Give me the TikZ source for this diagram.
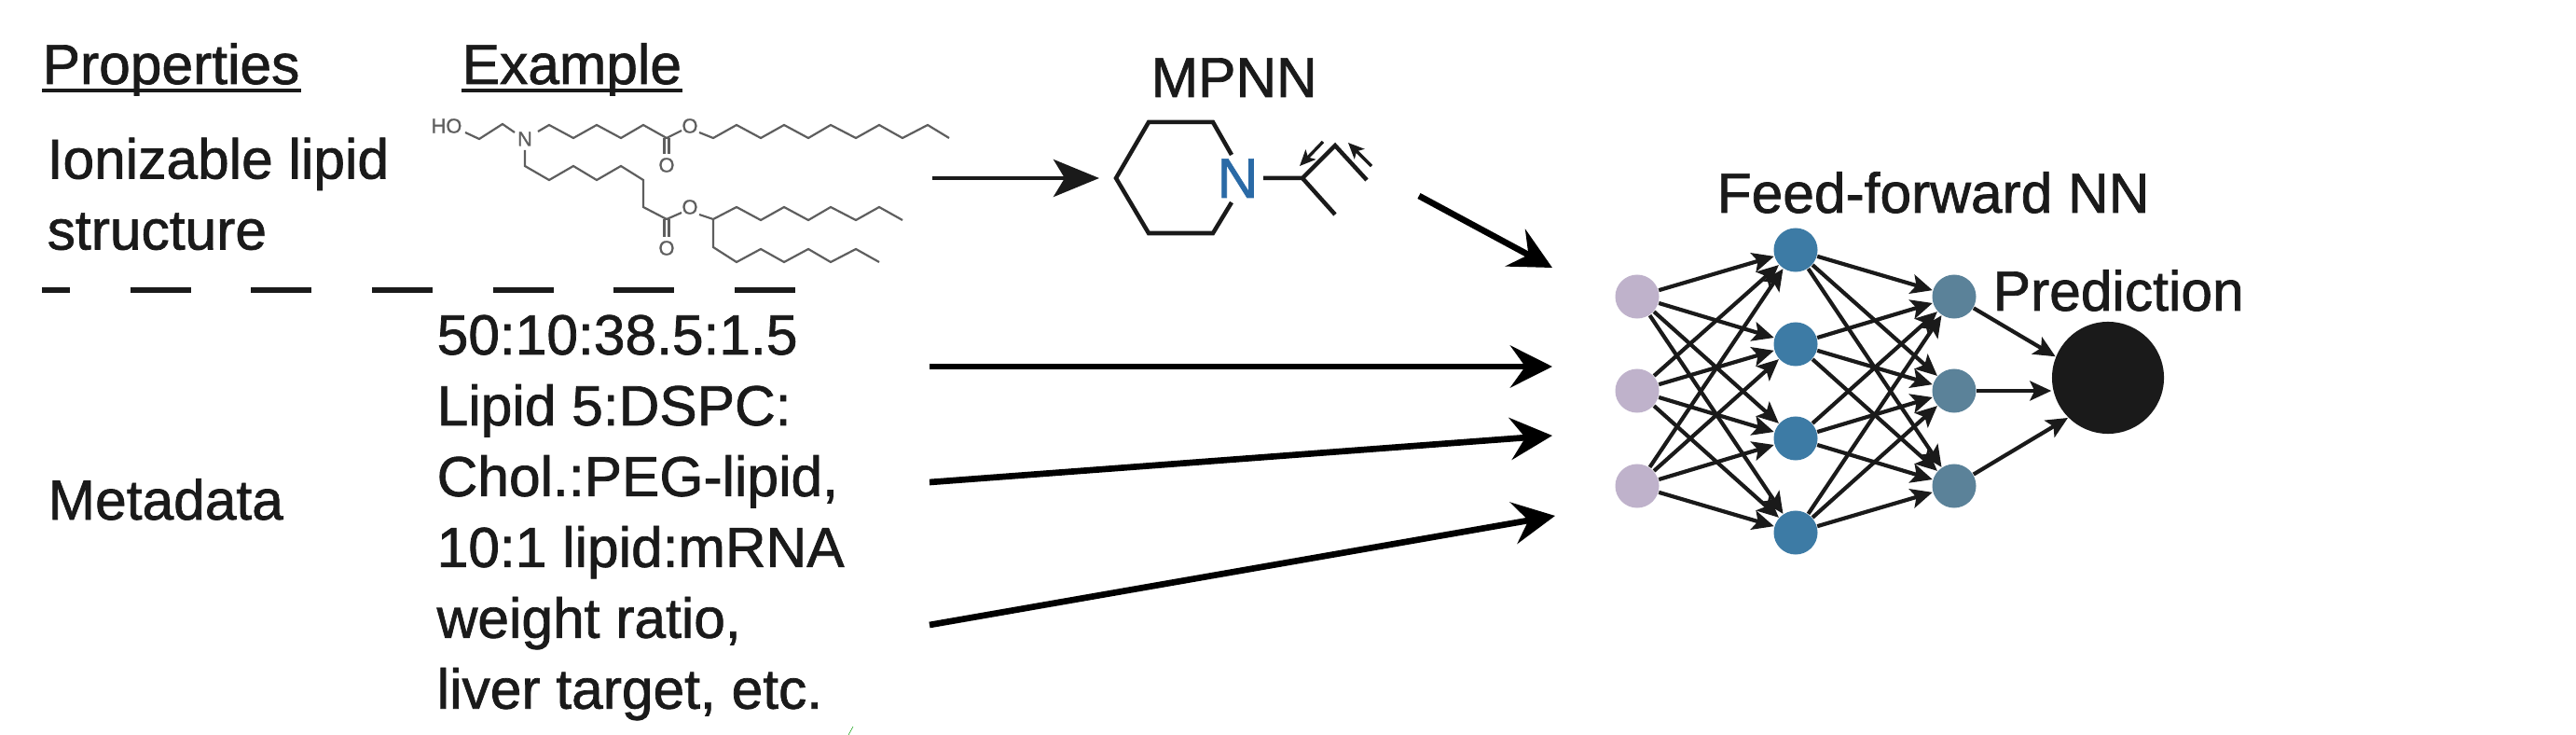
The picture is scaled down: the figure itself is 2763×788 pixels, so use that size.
\documentclass[tikz,border=0pt]{standalone}
\usepackage{fontspec}
\setmainfont{Liberation Sans}[FakeBold=1.2]
\usetikzlibrary{arrows.meta}

\definecolor{ink}{HTML}{1A1A1A}
\definecolor{molgray}{HTML}{5E5E5E}
\definecolor{nblue}{HTML}{2A6AA6}
\definecolor{inpurple}{HTML}{BFB2CB}
\definecolor{hidblue}{HTML}{3D7BA5}
\definecolor{resblue}{HTML}{5B8299}

\tikzset{
  txt/.style={inner sep=0pt, text=ink, align=left, font=\fontsize{17.2}{21.6}\selectfont},
  ruleline/.style={ink, line width=0.4mm},
  bigarrow/.style={black, line width=0.67mm, -{Stealth[length=4.5mm, width=4.5mm, inset=1.6mm]}},
  ringline/.style={ink, line width=0.45mm, line join=miter},
  mol/.style={molgray, line width=0.22mm},
  moltxt/.style={inner sep=0pt, text=molgray, font=\fontsize{6.2}{7}\selectfont},
  neuron/.style={circle, inner sep=0pt, minimum size=4.7mm},
  nnarrow/.style={ink, line width=0.42mm, -{Stealth[length=2.3mm, width=2.1mm, inset=0.5mm]}},
}

\begin{document}
\begin{tikzpicture}[x=0.01cm, y=-0.01cm]

\useasboundingbox (0,0) rectangle (2763,788);

% column titles
\node[txt, anchor=base west] at (45,90) (props) {Properties};
\node[txt, anchor=base west] at (495,90) (examp) {Example};
\draw[ruleline] (45,97) -- (323,97) ;
\draw[ruleline] (495,97) -- (732,97) ;

% row labels
\node[txt, anchor=north west] at (50,147) (ionlip) {\fontsize{17.2}{20.6}\selectfont Ionizable lipid\\structure};
\node[txt, anchor=base west] at (51,557) (meta) {Metadata};

% dashed separator
\draw[ink, line width=0.6mm, dash pattern=on 0.65cm off 0.646cm, dash phase=0.35cm] (45,311) -- (854,311) ;

% metadata example
\node[txt, anchor=north west] at (468,337) (metatxt) {50:10:38.5:1.5\\Lipid 5:DSPC:\\Chol.:PEG-lipid,\\10:1 lipid:mRNA\\weight ratio,\\liver target, etc.};

% lipid molecule
\node[moltxt, anchor=center] at (479,135) (mol-HO) {HO};
\node[moltxt, anchor=center] at (563,149) (mol-N) {N};
\node[moltxt, anchor=center] at (715,177) (mol-O1) {O};
\node[moltxt, anchor=center] at (740,135) (mol-O2) {O};
\node[moltxt, anchor=center] at (715,266) (mol-O3) {O};
\node[moltxt, anchor=center] at (740,222) (mol-O4) {O};

\draw[mol] plot coordinates {
(499,142) (514,149) (539,133) (552,142)
};
\draw[mol] plot coordinates {
(577,141) (589,134) (615,148) (640,134) (666,148) (690,134) (715,148) (731,140)
};
\draw[mol] plot coordinates {
(750,142) (765,148) (790,134) (816,148) (841,134) (867,148) (891,134) (918,148) (943,134) (968,148) (995,134) (1018,148)
};
\draw[mol] (712.5,148) -- (712.5,165) (717.5,148) -- (717.5,165) ;
\draw[mol] plot coordinates {
(563,161) (563,178) (589,193) (615,178) (640,193) (666,178) (690,193) (690,222) (715,235) (731,228)
};
\draw[mol] plot coordinates {
(750,230) (765,235) (790,222) (816,236) (841,222) (867,236) (891,222) (918,236) (943,222) (968,236)
};
\draw[mol] plot coordinates {
(765,235) (765,265) (790,281) (816,267) (841,281) (867,267) (891,281) (918,267) (943,281)
};
\draw[mol] (712.5,235) -- (712.5,254) (717.5,235) -- (717.5,254) ;

% MPNN graph
\node[txt, anchor=base west] at (1234,104) (mpnn) {MPNN};
\node[txt, anchor=base west, text=nblue] at (1305,212) (ring-N) {N};
\draw[ringline] plot coordinates {
(1321,166) (1301,131) (1232,131) (1197,191) (1232,250) (1301,250) (1321,217)
};
\draw[ringline] plot coordinates {
(1355,191) (1397,191) (1432,156) (1466,193)
};
\draw[ringline] (1397,191) -- (1432,230) ;

% message arrows
\begin{scope}[ink, line width=0.33mm, -{Stealth[length=1.7mm, width=1.5mm, inset=0.4mm]}]
\draw (1419,152) -- (1394,178) ;
\draw (1471,178) -- (1446,153) ;
\end{scope}

% free ends of the input arrows
\path
(1000,191) coordinate (struct-R)
(1179,191) coordinate (mpnn-L)
(1522,210) coordinate (mpnn-R)
(1665,287) coordinate (nn-A)
(997,393) coordinate (meta-A)
(1665,393) coordinate (nn-B)
(997,517) coordinate (meta-B)
(1665,467) coordinate (nn-C)
(997,670) coordinate (meta-C)
(1668,553) coordinate (nn-D)
;

% input arrows
\draw[ink, line width=0.45mm, -{Stealth[length=4.9mm, width=4mm, inset=1.2mm]}] (struct-R) -- (mpnn-L) ;
\draw[bigarrow] (mpnn-R) -- (nn-A) ;
\draw[bigarrow] (meta-A) -- (nn-B) ;
\draw[bigarrow] (meta-B) -- (nn-C) ;
\draw[bigarrow] (meta-C) -- (nn-D) ;

% feed-forward network
\node[txt, anchor=base west] at (1841,228) (ffnn) {Feed-forward NN};
\node[txt, anchor=base west] at (2137,333) (predtxt) {Prediction};

\node[neuron, fill=inpurple] at (1756,318) (in-1) {};
\node[neuron, fill=inpurple] at (1756,419) (in-2) {};
\node[neuron, fill=inpurple] at (1756,521) (in-3) {};

\node[neuron, fill=hidblue] at (1926,268) (hid-1) {};
\node[neuron, fill=hidblue] at (1926,369) (hid-2) {};
\node[neuron, fill=hidblue] at (1926,470) (hid-3) {};
\node[neuron, fill=hidblue] at (1926,571) (hid-4) {};

\node[neuron, fill=resblue] at (2096,318) (res-1) {};
\node[neuron, fill=resblue] at (2096,419) (res-2) {};
\node[neuron, fill=resblue] at (2096,521) (res-3) {};

\node[circle, inner sep=0pt, minimum size=1.2cm, fill=ink] at (2261,405) (pred) {};

% input to hidden
\draw[nnarrow] (in-1) -- (hid-1) ;
\draw[nnarrow] (in-1) -- (hid-2) ;
\draw[nnarrow] (in-1) -- (hid-3) ;
\draw[nnarrow] (in-1) -- (hid-4) ;
\draw[nnarrow] (in-2) -- (hid-1) ;
\draw[nnarrow] (in-2) -- (hid-2) ;
\draw[nnarrow] (in-2) -- (hid-3) ;
\draw[nnarrow] (in-2) -- (hid-4) ;
\draw[nnarrow] (in-3) -- (hid-1) ;
\draw[nnarrow] (in-3) -- (hid-2) ;
\draw[nnarrow] (in-3) -- (hid-3) ;
\draw[nnarrow] (in-3) -- (hid-4) ;

% hidden to last layer
\draw[nnarrow] (hid-1) -- (res-1) ;
\draw[nnarrow] (hid-1) -- (res-2) ;
\draw[nnarrow] (hid-1) -- (res-3) ;
\draw[nnarrow] (hid-2) -- (res-1) ;
\draw[nnarrow] (hid-2) -- (res-2) ;
\draw[nnarrow] (hid-2) -- (res-3) ;
\draw[nnarrow] (hid-3) -- (res-1) ;
\draw[nnarrow] (hid-3) -- (res-2) ;
\draw[nnarrow] (hid-3) -- (res-3) ;
\draw[nnarrow] (hid-4) -- (res-1) ;
\draw[nnarrow] (hid-4) -- (res-2) ;
\draw[nnarrow] (hid-4) -- (res-3) ;

% last layer to prediction
\draw[nnarrow] (res-1) -- (pred.158) ;
\draw[nnarrow] (res-2) -- (res-2 -| pred.west) ;
\draw[nnarrow] (res-3) -- (pred.south west) ;

% green speck at the bottom
\draw[green!60!black, line width=0.05mm] (910,788) -- (915,779) ;

\end{tikzpicture}
\end{document}
